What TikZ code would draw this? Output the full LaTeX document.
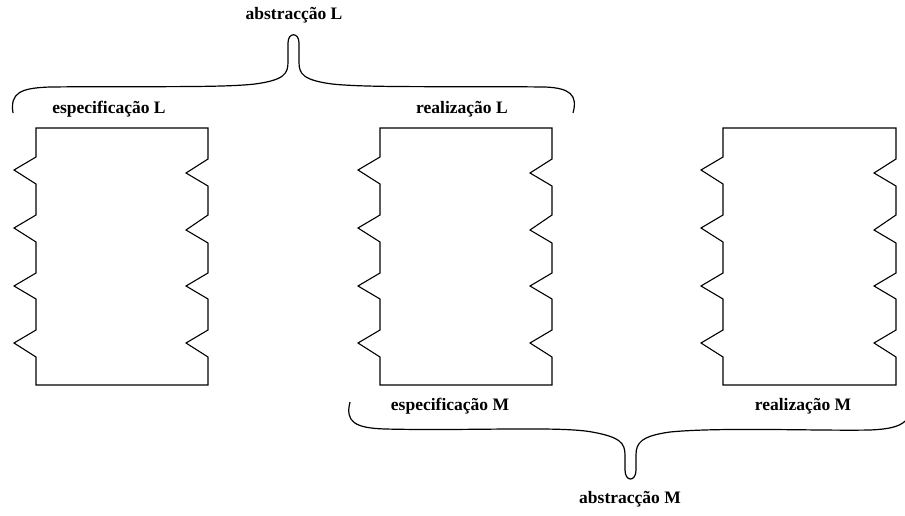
\documentclass[tikz,border=0pt]{standalone}
\usepackage{fontspec}
\setmainfont{Liberation Serif}

\tikzset{
  blockline/.style={line width=1.1pt, line join=miter},
  braceline/.style={line width=1.2pt},
  lbl/.style={font=\fontsize{17.5}{20}\selectfont\bfseries, inner sep=0pt}
}

% block with zigzag sides, left edge at #1, right edge at #2
\newcommand{\zigblock}[2]{%
\draw[blockline] (#1,128)--(#1,157)--(#1-22,170)--(#1,184)--(#1,215)--(#1-22,228)--(#1,242)
  --(#1,273)--(#1-22,286)--(#1,299)--(#1,330)--(#1-22,343)--(#1,357)--(#1,385)
  --(#2,385)--(#2,357)--(#2-22,343)--(#2,330)--(#2,299)--(#2-22,286)--(#2,273)
  --(#2,243)--(#2-22,230)--(#2,215)--(#2,186)--(#2-22,173)--(#2,159)--(#2,128)--cycle;}

\begin{document}
\begin{tikzpicture}[x=1pt,y=-1pt]
\useasboundingbox (0,0) rectangle (905,515);
\clip (0,0) rectangle (905,515);
% blocks
\zigblock{36}{208}
\zigblock{380}{552}
\zigblock{723}{896}
% labels
\node[lbl] (especL) at (109,109) {especificação L};
\node[lbl] (realL) at (462,109) {realização L};
\node[lbl] (especM) at (450,406) {especificação M};
\node[lbl] (realM) at (803,406) {realização M};
\node[lbl] (abstrL) at (294,15) {abstracção L};
\node[lbl] (abstrM) at (630,499) {abstracção M};
% brace L
\draw[braceline] (13,113) .. controls (10,93) and (20,88) .. (50,87)
  .. controls (140,86) and (220,88) .. (255,84)
  .. controls (284,80) and (288,74) .. (288,62) -- (288,43)
  .. controls (288,32) and (299,32) .. (299,43) -- (299,62)
  .. controls (299,74) and (303,80) .. (332,84)
  .. controls (370,88) and (450,86) .. (545,87)
  .. controls (570,88) and (578,95) .. (573,113);
% brace M
\draw[braceline] (350,402) .. controls (345,422) and (355,428) .. (385,429)
  .. controls (470,431) and (560,426) .. (592,432)
  .. controls (620,437) and (625,443) .. (625,455) -- (625,470)
  .. controls (625,482) and (636,482) .. (636,470) -- (636,455)
  .. controls (636,443) and (641,436) .. (670,432)
  .. controls (720,427) and (820,431) .. (870,430)
  .. controls (892,429) and (902,426) .. (908,418);
\end{tikzpicture}
\end{document}
